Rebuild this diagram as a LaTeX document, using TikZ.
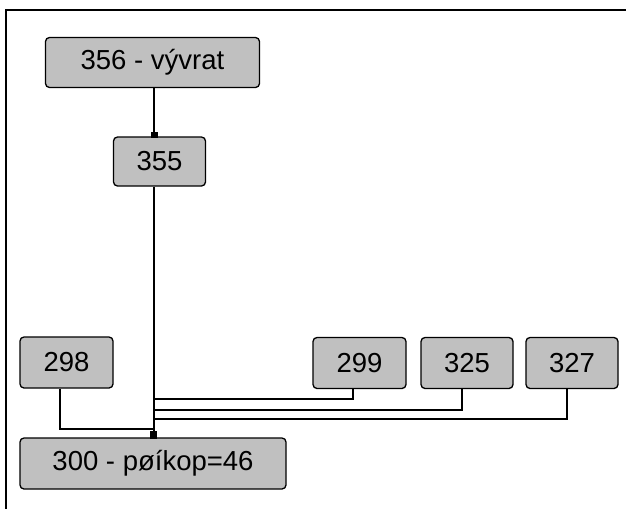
\documentclass[tikz,border=0pt]{standalone}
\usepackage{fontspec}
\setmainfont{Liberation Sans}
\begin{document}
\begin{tikzpicture}[x=1pt,y=-1pt,
  box/.style={draw=black,line width=1.3pt,fill={rgb,255:red,192;green,192;blue,192},rounded corners=4pt,inner sep=0pt,font=\fontsize{27.5}{29}\selectfont},
  link/.style={draw=black,line width=1.3pt},
  dot/.style={fill=black}]
\useasboundingbox (0,0) rectangle (626,509);
\fill[white] (0,0) rectangle (626,509);
\draw[line width=2pt] (626,10) -- (6,10) -- (6,509);
\node[box,minimum width=214pt,minimum height=50pt] (n356) at (152.5,62.5) {356 - vývrat};
\node[box,minimum width=92pt,minimum height=49pt] (n355) at (159.5,161.5) {355};
\node[box,minimum width=93pt,minimum height=51pt] (n298) at (66.5,362.5) {298};
\node[box,minimum width=93pt,minimum height=51pt] (n299) at (359.5,363) {299};
\node[box,minimum width=92pt,minimum height=51pt] (n325) at (467,363) {325};
\node[box,minimum width=92pt,minimum height=51pt] (n327) at (572,363) {327};
\node[box,minimum width=266pt,minimum height=51pt] (n300) at (153,463.5) {300 - pøíkop=46};
\coordinate (j1) at (154,137);
\coordinate (j2) at (154,438);
\coordinate (b298) at (154,429);
\coordinate (b299) at (155,399);
\coordinate (b325) at (155,410);
\coordinate (b327) at (155,419);
\draw[link] (n356.south -| j1) -- (j1);
\draw[link] (n355.south -| j2) -- (j2);
\draw[link] ([xshift=-6.5pt]n298.south) |- (b298);
\draw[link] ([xshift=-6.5pt]n299.south) |- (b299);
\draw[link] ([xshift=-5pt]n325.south) |- (b325);
\draw[link] ([xshift=-5pt]n327.south) |- (b327);
\fill[dot] (150.5,132) rectangle (157.5,138);
\fill[dot] (149.5,431) rectangle (157,439);
\end{tikzpicture}
\end{document}
